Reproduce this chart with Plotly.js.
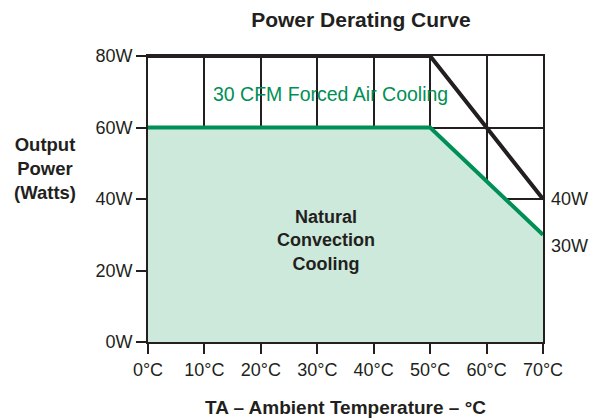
<!DOCTYPE html>
<html>
<head>
<meta charset="utf-8">
<script src="https://cdn.plot.ly/plotly-3.0.1.min.js"></script>
<style>html,body{margin:0;padding:0;background:#fff;}#chart{width:594px;height:419px;}</style>
</head>
<body>
<div id="chart"></div>
<script>
// Data
const temps = [0, 50, 70];
const forcedAir = [80, 80, 40];
const naturalConv = [60, 60, 30];
const xTickVals = [0, 10, 20, 30, 40, 50, 60, 70];
const xTickText = ["0°C", "10°C", "20°C", "30°C", "40°C", "50°C", "60°C", "70°C"];
const yTickVals = [0, 20, 40, 60, 80];
const yTickText = ["0W", "20W", "40W", "60W", "80W"];

const ink = "#231f20";
const green = "#008f55";
const fillGreen = "#cde9dc";
const font = "Liberation Sans, Arial, Helvetica, sans-serif";

const traces = [
  {
    x: temps, y: naturalConv, type: "scatter", mode: "lines",
    fill: "tozeroy", fillcolor: fillGreen,
    line: {color: green, width: 4},
    hoverinfo: "skip", showlegend: false
  },
  {
    x: temps, y: forcedAir, type: "scatter", mode: "lines",
    line: {color: ink, width: 4}, cliponaxis: false,
    hoverinfo: "skip", showlegend: false
  }
];

const axisCommon = {
  showline: true, linecolor: ink, linewidth: 2, mirror: true,
  ticks: "outside", ticklen: 10, tickwidth: 2, tickcolor: ink,
  showgrid: true, gridcolor: ink, gridwidth: 2,
  zeroline: false, fixedrange: true,
  tickfont: {family: font, size: 18, color: ink}
};

const layout = {
  width: 594, height: 419,
  margin: {l: 148, r: 51, t: 56, b: 77},
  paper_bgcolor: "#ffffff", plot_bgcolor: "#ffffff",
  showlegend: false,
  title: {
    text: "Power Derating Curve",
    font: {family: font, size: 21, color: ink, weight: "bold"},
    xref: "paper", x: 0.539, xanchor: "center",
    yref: "container", y: 0.954, yanchor: "middle"
  },
  xaxis: Object.assign({}, axisCommon, {
    range: [0, 70], tickvals: xTickVals, ticktext: xTickText,
    title: {text: "TA – Ambient Temperature – °C", standoff: 22,
            font: {family: font, size: 19, color: ink, weight: "bold"}}
  }),
  yaxis: Object.assign({}, axisCommon, {
    range: [0, 80], tickvals: yTickVals, ticktext: yTickText
  }),
  annotations: [
    {text: "Output<br>Power<br>(Watts)", xref: "paper", yref: "paper",
     x: -0.261, y: 0.608, xanchor: "center", yanchor: "middle", showarrow: false,
     font: {family: font, size: 18.5, color: ink, weight: "bold"}},
    {text: "30 CFM Forced Air Cooling", xref: "x", yref: "y",
     x: 32.3, y: 69.5, xanchor: "center", yanchor: "middle", showarrow: false,
     font: {family: font, size: 19.5, color: green}},
    {text: "Natural<br>Convection<br>Cooling", xref: "x", yref: "y",
     x: 31.5, y: 28.3, xanchor: "center", yanchor: "middle", showarrow: false,
     font: {family: font, size: 18, color: ink, weight: "bold"}},
    {text: forcedAir[forcedAir.length - 1] + "W", xref: "x", yref: "y",
     x: temps[temps.length - 1], y: forcedAir[forcedAir.length - 1],
     xanchor: "left", yanchor: "middle", xshift: 6, showarrow: false,
     font: {family: font, size: 18, color: ink}},
    {text: naturalConv[naturalConv.length - 1] + "W", xref: "x", yref: "y",
     x: temps[temps.length - 1], y: naturalConv[naturalConv.length - 1],
     xanchor: "left", yanchor: "middle", xshift: 6, yshift: -11, showarrow: false,
     font: {family: font, size: 18, color: ink}}
  ]
};

Plotly.newPlot("chart", traces, layout, {displayModeBar: false, staticPlot: true});
</script>
</body>
</html>
